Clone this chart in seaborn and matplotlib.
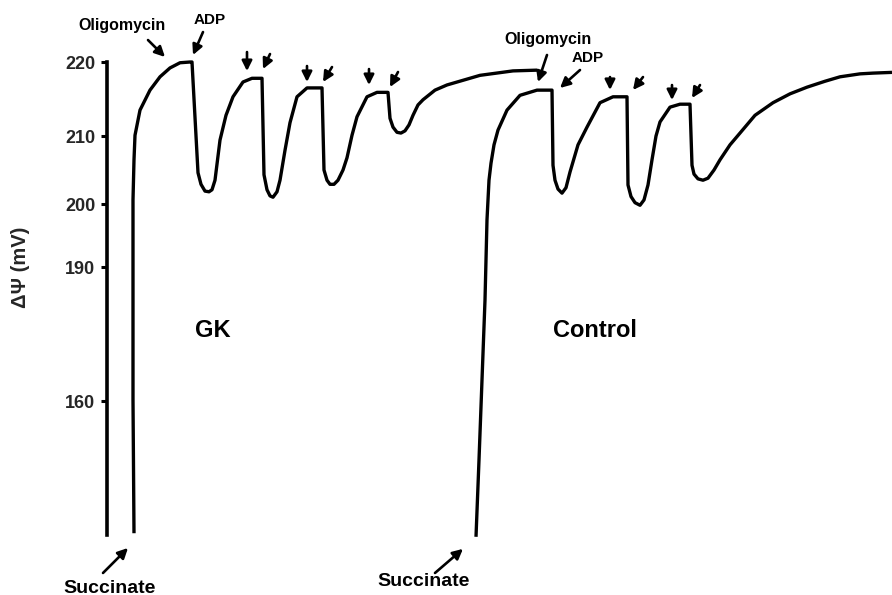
"""
Membrane potential traces, GK vs Control mitochondria
"""

import numpy as np
import pandas as pd
import seaborn as sns
import matplotlib.pyplot as plt

# trace values (time in chart units, potential in mV)
gk_time = [134, 133, 133, 133, 134, 135, 140, 150, 160, 170, 180, 190, 192,
           198, 201, 205, 209, 212, 215, 220, 226, 233, 243, 252, 262,
           264, 267, 270, 273, 277, 280, 285, 290, 297, 307, 322,
           324, 327, 330, 334, 338, 343, 347, 352, 357, 367, 377, 388,
           390, 393, 397, 401, 405, 409, 413, 418, 423, 435, 447, 480, 513, 537]
gk_mv = [130.4, 160.2, 182.6, 200.6, 206.5, 210.1, 213.5, 216.2, 218.0, 219.2, 219.9, 220.0, 220.0,
         204.6, 202.9, 201.9, 201.8, 202.1, 203.5, 209.4, 212.8, 215.3, 217.3, 217.8, 217.8,
         204.3, 202.1, 201.2, 201.0, 201.8, 203.5, 207.9, 211.8, 215.3, 216.5, 216.5,
         205.0, 203.5, 202.9, 202.9, 203.5, 205.0, 206.8, 210.1, 212.6, 215.3, 215.9, 215.9,
         212.4, 211.2, 210.5, 210.4, 210.7, 211.5, 212.8, 214.2, 214.9, 216.2, 216.9, 218.2, 218.8, 218.9]

ctrl_time = [476, 479, 482, 485, 487, 489, 491, 494, 498, 507, 520, 537, 552,
             553, 555, 558, 562, 566, 570, 578, 587, 600, 613, 627,
             628, 631, 635, 640, 644, 648, 652, 656, 660, 670, 680, 690,
             692, 694, 698, 703, 708, 714, 720, 730, 740, 755, 773, 790, 807, 825, 840, 860, 873, 892]
ctrl_mv = [129.6, 146.8, 164.7, 182.6, 197.5, 203.5, 206.0, 208.7, 210.8, 213.5, 215.5, 216.2, 216.2,
           205.7, 203.5, 202.2, 201.6, 202.4, 204.7, 208.7, 211.2, 214.5, 215.3, 215.3,
           202.8, 201.1, 200.2, 199.8, 200.6, 202.8, 206.5, 210.0, 211.9, 213.9, 214.3, 214.3,
           205.7, 204.4, 203.7, 203.5, 203.8, 205.0, 206.5, 208.7, 210.4, 212.8, 214.5, 215.7,
           216.6, 217.4, 218.0, 218.4, 218.5, 218.6]

y_ticks = [160, 190, 200, 210, 220]

# non-linear recorder scale: mV -> height on the chart paper
scale_mv = [110, 160, 190, 200, 210, 220, 230]
scale_h = [-624.3, -401, -267, -204, -136, -62, 12]


def fwd(v):
    return np.interp(v, scale_mv, scale_h)


def inv(h):
    return np.interp(h, scale_h, scale_mv)


sns.set_style("white")
plt.rcParams['font.family'] = ['Liberation Sans', 'DejaVu Sans']
plt.rcParams['font.weight'] = 'bold'

df_gk = pd.DataFrame({'time': gk_time, 'mV': gk_mv})
df_ctrl = pd.DataFrame({'time': ctrl_time, 'mV': ctrl_mv})

fig = plt.figure(figsize=(8.92, 5.95), dpi=100)
ax = fig.add_axes([107 / 892, 0, 785 / 892, 1])
ax.set_yscale('function', functions=(fwd, inv))

for d in (df_gk, df_ctrl):
    sns.lineplot(data=d, x='time', y='mV', sort=False, estimator=None,
                 color='black', linewidth=2.4, ax=ax,
                 solid_joinstyle='round', solid_capstyle='butt')

ax.set_xlim(107, 892)
ax.set_ylim(116.57, 228.38)

for s in ('top', 'right', 'bottom'):
    ax.spines[s].set_visible(False)
ax.spines['left'].set_linewidth(2.6)
ax.spines['left'].set_color('black')
ax.spines['left'].set_bounds(130.0, 220)
ax.set_xticks([])
ax.set_xlabel('')
ax.set_yticks(y_ticks)
ax.set_yticklabels([str(t) for t in y_ticks], fontsize=13, fontweight='bold')
ax.tick_params(axis='y', left=True, length=4.5, width=2.2, pad=4, color='black')
ax.set_ylabel('ΔΨ (mV)', fontsize=14.5, fontweight='bold')
ax.yaxis.set_label_coords(-0.098, 0.55)

arrow = dict(arrowstyle='-|>,head_length=0.6,head_width=0.3', lw=1.9, color='black',
             shrinkA=0, shrinkB=0)

# additions (tail, tip)
marks = [((148, 222.97), (165, 220.68)),
         ((203, 224.05), (193, 220.95)),
         ((247, 221.35), (247, 218.78)),
         ((270, 221.08), (263, 219.05)),
         ((307, 219.46), (307, 217.30)),
         ((332, 219.32), (323, 217.30)),
         ((369, 219.05), (369, 216.89)),
         ((398, 218.65), (390, 216.62)),
         ((547, 220.95), (538, 217.30)),
         ((580, 218.92), (560, 216.49)),
         ((610, 217.97), (610, 216.22)),
         ((643, 217.97), (633, 216.22)),
         ((672, 216.89), (672, 214.86)),
         ((700, 216.89), (692, 215.14)),
         ((103, 121.5), (128, 127.1)),
         ((435, 121.5), (463, 126.9))]
for tail, tip in marks:
    ax.annotate('', xy=tip, xytext=tail, arrowprops=arrow, annotation_clip=False)

lab = dict(ha='center', va='center', fontweight='bold', color='black')
ax.text(122, 225.0, 'Oligomycin', fontsize=11.5, **lab)
ax.text(210, 225.68, 'ADP', fontsize=11, **lab)
ax.text(548, 223.1, 'Oligomycin', fontsize=11.5, **lab)
ax.text(588, 220.54, 'ADP', fontsize=11, **lab)
ax.text(213, 175.9, 'GK', fontsize=17, **lab)
ax.text(595, 175.9, 'Control', fontsize=17, **lab)
ax.text(110, 118.1, 'Succinate', fontsize=14, **lab)
ax.text(424, 119.5, 'Succinate', fontsize=14, **lab)

plt.savefig('out.png', dpi=100)
